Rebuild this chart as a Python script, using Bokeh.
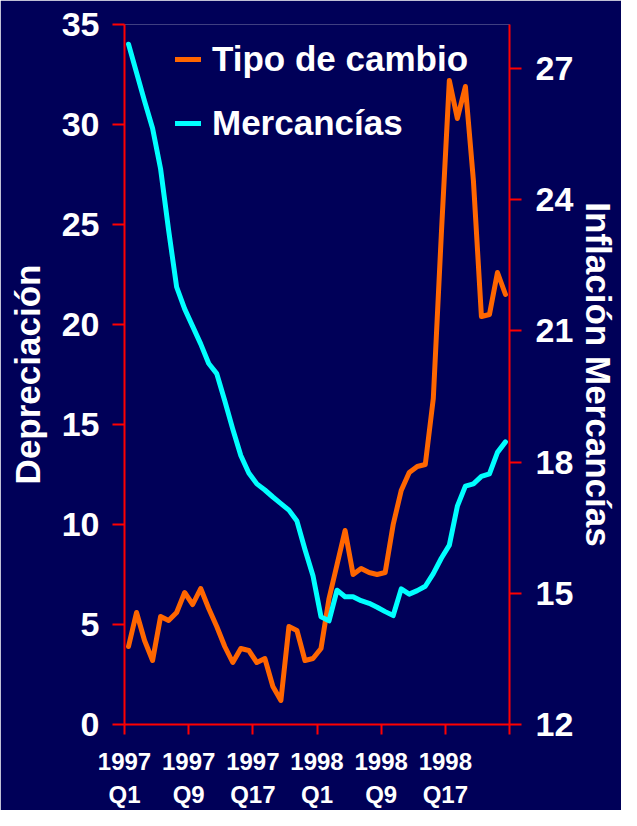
from bokeh.plotting import figure
from bokeh.models import Range1d, LinearAxis, FixedTicker, Legend, LegendItem
from bokeh.embed import file_html
from bokeh.resources import INLINE

# ---- data (quincenas 1997 Q1 .. 1998 Q24) ----
quincena = list(range(48))
depreciacion = [3.9, 5.6, 4.2, 3.2, 5.4, 5.2, 5.6, 6.6, 6.0, 6.8,
                5.8, 4.9, 3.9, 3.1, 3.8, 3.7, 3.1, 3.3, 1.9, 1.2,
                4.9, 4.7, 3.2, 3.3, 3.8, 6.3, 8.0, 9.7, 7.5, 7.8,
                7.6, 7.5, 7.6, 10.0, 11.7, 12.6, 12.9, 13.0, 16.3, 24.5,
                32.2, 30.3, 31.9, 27.2, 20.4, 20.5, 22.6, 21.5]
mercancias = [27.55, 26.9, 26.25, 25.63, 24.7, 23.3, 22.0, 21.5, 21.1, 20.7,
              20.25, 20.02, 19.4, 18.75, 18.15, 17.75, 17.5, 17.36, 17.2, 17.05,
              16.9, 16.65, 16.0, 15.4, 14.46, 14.37, 15.07, 14.92, 14.92, 14.83,
              14.77, 14.68, 14.58, 14.49, 15.1, 14.98, 15.06, 15.16, 15.45, 15.8,
              16.1, 16.99, 17.45, 17.5, 17.67, 17.73, 18.22, 18.46]
x_ticks = [0, 8, 16, 24, 32, 40, 48]
year_labels = ["1997", "1997", "1997", "1998", "1998", "1998", ""]
quincena_labels = ["Q1", "Q9", "Q17", "Q1", "Q9", "Q17", ""]
left_ticks = [0, 5, 10, 15, 20, 25, 30, 35]
right_ticks = [12, 15, 18, 21, 24, 27]
series_names = ["Tipo de cambio", "Mercancías"]

BG = "#000058"
RED = "#FF0000"
ORANGE = "#FF6600"
CYAN = "#00FFFF"
FONT = "Liberation Sans"

x = [q + 0.5 for q in quincena]

p = figure(width=621, height=810, output_backend="svg", toolbar_location=None,
           x_range=Range1d(0, 48), y_range=Range1d(0, 35),
           min_border_left=124, min_border_right=112, min_border_top=24,
           min_border_bottom=84,
           background_fill_color=BG, border_fill_color=BG,
           outline_line_color=None)
p.extra_y_ranges = {"inf": Range1d(12, 28)}
p.grid.visible = False


def style(ax, size, tick_out):
    ax.axis_line_color = RED
    ax.axis_line_width = 2
    ax.major_tick_line_color = RED
    ax.major_tick_line_width = 2
    ax.major_tick_out = tick_out
    ax.major_tick_in = 0
    ax.minor_tick_line_color = None
    ax.major_label_text_color = "white"
    ax.major_label_text_font = FONT
    ax.major_label_text_font_style = "bold"
    ax.major_label_text_font_size = size
    ax.axis_label_text_color = "white"
    ax.axis_label_text_font = FONT
    ax.axis_label_text_font_style = "bold"
    ax.axis_label_text_font_size = "35px"
    ax.axis_label_text_line_height = 1.0


# x axis, first row: ticks + years
xa = p.xaxis[0]
style(xa, "24px", 10)
xa.ticker = FixedTicker(ticks=x_ticks)
xa.major_label_overrides = dict(zip(x_ticks, year_labels))
xa.major_label_standoff = 18

# x axis, second row: quincena labels
xb = LinearAxis(ticker=FixedTicker(ticks=x_ticks))
style(xb, "24px", 0)
xb.axis_line_color = None
xb.major_tick_line_color = None
xb.major_label_overrides = dict(zip(x_ticks, quincena_labels))
xb.major_label_standoff = 8
p.add_layout(xb, "below")

ya = p.yaxis[0]
style(ya, "34px", 12)
ya.ticker = FixedTicker(ticks=left_ticks)
ya.axis_label = "Depreciación"
ya.major_label_standoff = 13
ya.axis_label_standoff = 12

ra = LinearAxis(y_range_name="inf", ticker=FixedTicker(ticks=right_ticks),
                axis_label="Inflación Mercancías")
style(ra, "34px", 12)
ra.major_label_standoff = 14
ra.axis_label_standoff = 3
p.add_layout(ra, "right")

r1 = p.line(x, depreciacion, line_color=ORANGE, line_width=5,
            line_join="round", line_cap="round")
r2 = p.line(x, mercancias, y_range_name="inf", line_color=CYAN, line_width=5,
            line_join="round", line_cap="round")

legend = Legend(items=[LegendItem(label=series_names[0], renderers=[r1]),
                       LegendItem(label=series_names[1], renderers=[r2])],
                location=(51, 578), padding=0, margin=0, spacing=18,
                glyph_width=26, glyph_height=46, label_height=46,
                label_standoff=11, background_fill_alpha=0,
                border_line_color=None,
                label_text_color="white", label_text_font=FONT,
                label_text_font_style="bold", label_text_font_size="35px")
p.add_layout(legend)

open("out.html", "w").write(file_html(p, INLINE))
